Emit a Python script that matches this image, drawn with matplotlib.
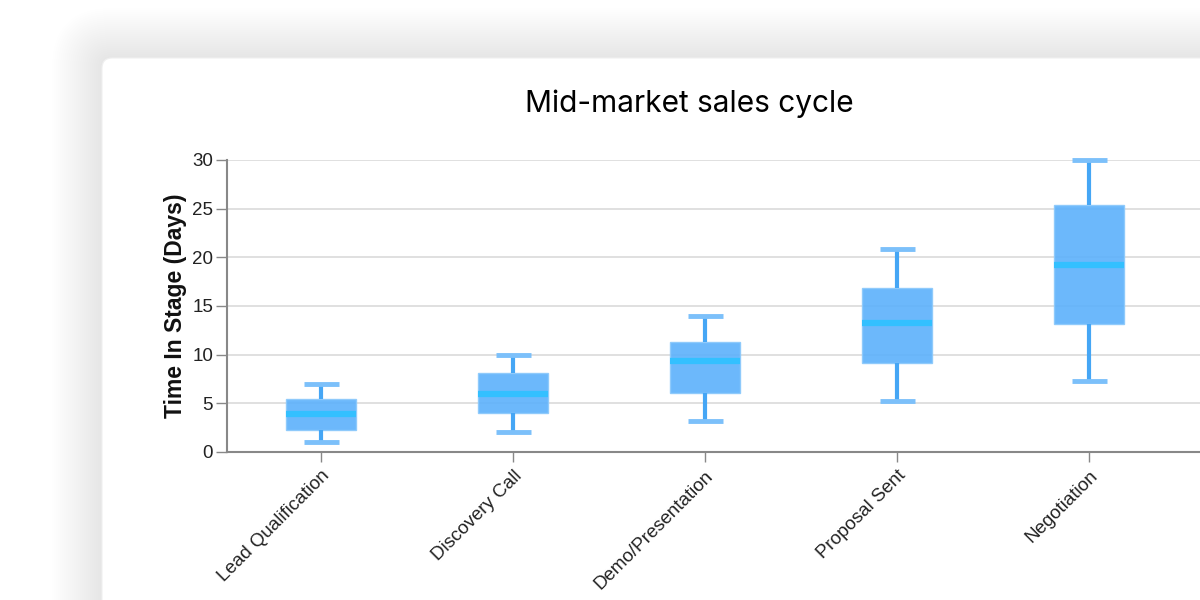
import matplotlib.pyplot as plt
from matplotlib.patches import FancyBboxPatch

# box plot stats
stages = ['Lead Qualification', 'Discovery Call', 'Demo/Presentation', 'Proposal Sent', 'Negotiation']
whisker_low = [1.0, 2.1, 3.15, 5.25, 7.25]
q1 = [2.25, 4.0, 6.1, 9.1, 13.2]
median = [3.9, 6.0, 9.3, 13.3, 19.2]
q3 = [5.4, 8.15, 11.35, 16.85, 25.35]
whisker_high = [7.0, 10.0, 14.0, 20.9, 29.95]
y_ticks = [0, 5, 10, 15, 20, 25, 30]

W, H = 1200, 600
fig = plt.figure(figsize=(12, 6), dpi=100)
fig.patch.set_facecolor('white')

# card with soft shadow (kept behind the axes)
card_x, card_y = 102, 58
for i in range(50, 0, -2):
    sh = FancyBboxPatch((card_x - i, -60), W + 100, H - card_y + 60 + i,
                        boxstyle='round,pad=0,rounding_size=%d' % (10 + i),
                        transform=None, facecolor='#000000', edgecolor='none',
                        alpha=0.002, zorder=-10)
    fig.add_artist(sh)
card = FancyBboxPatch((card_x, -60), W + 100, H - card_y + 60,
                      boxstyle='round,pad=0,rounding_size=10',
                      transform=None, facecolor='white', edgecolor='#efefef',
                      linewidth=0.8, zorder=-9)
fig.add_artist(card)

left, right, top, bottom = 227, 1200, 160, 452
ax = fig.add_axes([left / W, (H - bottom) / H, (right - left) / W, (bottom - top) / H])
ax.set_facecolor('none')
ax.set_zorder(5)

stats = []
for i, name in enumerate(stages):
    stats.append({'label': name, 'whislo': whisker_low[i], 'q1': q1[i], 'med': median[i],
                  'q3': q3[i], 'whishi': whisker_high[i], 'fliers': []})

box_w = 70 / 192
ax.bxp(stats, positions=range(len(stages)), widths=box_w, patch_artist=True,
       showfliers=False, capwidths=35 / 192,
       boxprops=dict(facecolor='#5fb2fb', edgecolor='#8cc9fb', linewidth=1.0, alpha=0.92),
       whiskerprops=dict(color='#45a6f5', linewidth=3, solid_capstyle='butt'),
       capprops=dict(color='#7cc0fa', linewidth=3.5, solid_capstyle='butt'),
       medianprops=dict(color='#33c0ff', linewidth=4.5, solid_capstyle='butt'),
       zorder=3)
for art in ax.lines:
    art.set_clip_on(False)

ax.set_xlim(-(321 - left) / 192, (right - 321) / 192)
ax.set_ylim(0, 30)
ax.set_yticks(y_ticks)
ax.set_yticklabels([str(v) for v in y_ticks], fontsize=13.5, family='Liberation Sans', color='#222222')
ax.grid(axis='y', color='#dddddd', linewidth=1.3, zorder=0)
ax.set_axisbelow(True)

ax.set_xticks(range(len(stages)))
ax.set_xticklabels(stages, rotation=45, ha='right', rotation_mode='anchor',
                   fontsize=13.5, family='Liberation Sans', color='#222222')

for s in ['top', 'right']:
    ax.spines[s].set_visible(False)
for s in ['left', 'bottom']:
    ax.spines[s].set_color('#888888')
    ax.spines[s].set_linewidth(1.5)
ax.tick_params(axis='y', length=8, width=1, color='#888888', pad=2)
ax.tick_params(axis='x', length=7, width=1, color='#888888', pad=4)

ax.set_ylabel('Time In Stage (Days)', fontsize=16.5, fontweight='bold',
              family='Liberation Sans', color='#111111', labelpad=4)

fig.text(689 / W, 1 - 104 / H, 'Mid-market sales cycle', ha='center', va='center',
         fontsize=21.5, family='Inter', color='#000000')

fig.savefig('out.png', dpi=100)
